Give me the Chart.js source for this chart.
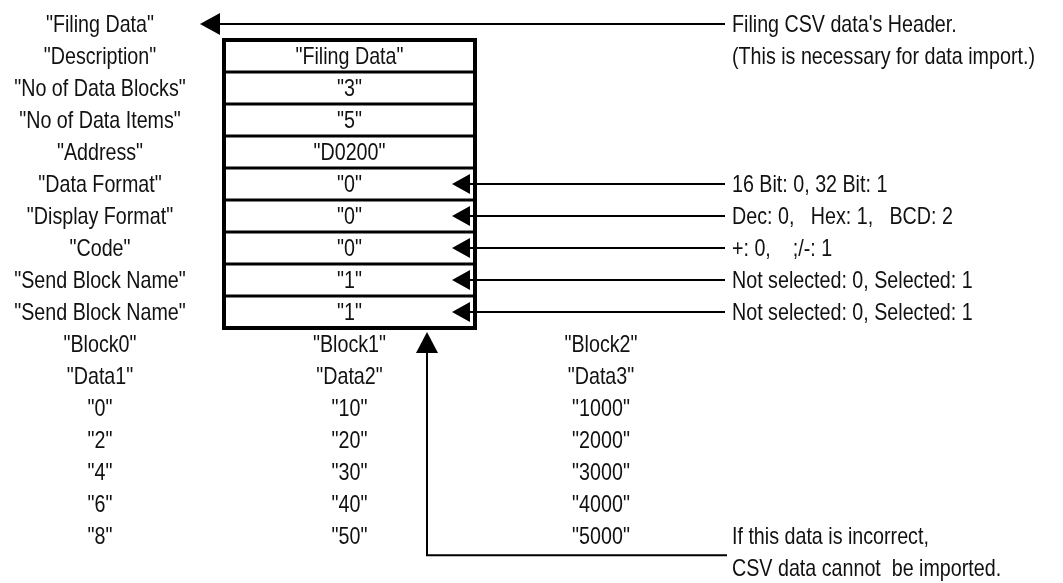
<!DOCTYPE html>
<html>
<head>
<meta charset="utf-8">
<script src="https://cdn.jsdelivr.net/npm/chart.js@4"></script>
<style>
  body { margin: 0; background: #fff; }
  #wrap { width: 1063px; height: 583px; }
</style>
</head>
<body>
<div id="wrap"><canvas id="csvChart" width="1063" height="583"></canvas></div>
<script>
// header field names (rows 0..9) and the values in the box (rows 1..9)
const fieldNames = ['"Filing Data"', '"Description"', '"No of Data Blocks"', '"No of Data Items"', '"Address"',
  '"Data Format"', '"Display Format"', '"Code"', '"Send Block Name"', '"Send Block Name"'];
const fieldValues = ['"Filing Data"', '"3"', '"5"', '"D0200"', '"0"', '"0"', '"0"', '"1"', '"1"'];

// block part (rows 10..16)
const blockNames = ['"Block0"', '"Block1"', '"Block2"'];
const dataNames = ['"Data1"', '"Data2"', '"Data3"'];
const block0Values = ['"0"', '"2"', '"4"', '"6"', '"8"'];
const block1Values = ['"10"', '"20"', '"30"', '"40"', '"50"'];
const block2Values = ['"1000"', '"2000"', '"3000"', '"4000"', '"5000"'];

// notes on the right
const headerNote = ["Filing CSV data's Header.", '(This is necessary for data import.)'];
const settingRows = [5, 6, 7, 8, 9];
const settingNotes = ['16 Bit: 0, 32 Bit: 1', 'Dec: 0,   Hex: 1,   BCD: 2', '+: 0,    ;/-: 1',
  'Not selected: 0, Selected: 1', 'Not selected: 0, Selected: 1'];
const errorNote = ['If this data is incorrect,', 'CSV data cannot  be imported.'];

// layout (pixel units on the x scale)
const COL_LEFT = 100, COL_MID = 349.5, COL_RIGHT = 601, NOTE_X = 732;
const BOX_L = 224, BOX_R = 475;
// no Arial Narrow here, so squeeze Liberation Sans sideways
const FONT = '24px "Liberation Sans", Arial, sans-serif';
const NARROW = 0.82;

function col(x, texts, firstRow) {
  return texts.map((t, i) => ({ x: x, y: firstRow + i, t: t }));
}

const leftPts = col(COL_LEFT, fieldNames, 0)
  .concat(col(COL_LEFT, [blockNames[0], dataNames[0]], 10), col(COL_LEFT, block0Values, 12));
const midPts = col(COL_MID, fieldValues, 1)
  .concat(col(COL_MID, [blockNames[1], dataNames[1]], 10), col(COL_MID, block1Values, 12));
const rightPts = col(COL_RIGHT, [blockNames[2], dataNames[2]], 10).concat(col(COL_RIGHT, block2Values, 12));
const notePts = col(NOTE_X, headerNote, 0)
  .concat(settingNotes.map((t, i) => ({ x: NOTE_X, y: settingRows[i], t: t })), col(NOTE_X, errorNote, 16));

function line(ctx, x1, y1, x2, y2, w) {
  ctx.lineWidth = w;
  ctx.beginPath();
  ctx.moveTo(x1, y1);
  ctx.lineTo(x2, y2);
  ctx.stroke();
}

function head(ctx, tx, ty, bx, by, half) {
  // triangle with tip (tx,ty), base centre (bx,by)
  const dx = bx - tx, dy = by - ty, len = Math.hypot(dx, dy);
  const nx = -dy / len * half, ny = dx / len * half;
  ctx.beginPath();
  ctx.moveTo(tx, ty);
  ctx.lineTo(bx + nx, by + ny);
  ctx.lineTo(bx - nx, by - ny);
  ctx.closePath();
  ctx.fill();
}

const diagramPlugin = {
  id: 'diagram',
  beforeDatasetsDraw(chart) {
    const ctx = chart.ctx, xs = chart.scales.x, ys = chart.scales.y;
    ctx.save();
    ctx.strokeStyle = '#000';
    ctx.fillStyle = '#000';
    const l = xs.getPixelForValue(BOX_L), r = xs.getPixelForValue(BOX_R);
    const top = ys.getPixelForValue(0.5), bot = ys.getPixelForValue(fieldValues.length + 0.5);
    for (let k = 1; k < fieldValues.length; k++) {
      const y = ys.getPixelForValue(k + 0.5);
      line(ctx, l, y, r, y, 3);
    }
    ctx.lineWidth = 4;
    ctx.strokeRect(l, top, r - l, bot - top);

    // header arrow
    const y0 = ys.getPixelForValue(0);
    const end = xs.getPixelForValue(NOTE_X - 7);
    line(ctx, xs.getPixelForValue(218), y0, end, y0, 2);
    head(ctx, xs.getPixelForValue(200), y0, xs.getPixelForValue(220), y0, 11);

    // setting arrows
    settingRows.forEach(row => {
      const y = ys.getPixelForValue(row);
      line(ctx, xs.getPixelForValue(468), y, end, y, 2);
      head(ctx, xs.getPixelForValue(452), y, xs.getPixelForValue(470), y, 10);
    });

    // error arrow pointing up to the box
    const ax = xs.getPixelForValue(427);
    const yb = ys.getPixelForValue(16.6);
    const tip = bot + 4, base = tip + 21;
    ctx.lineWidth = 2;
    ctx.beginPath();
    ctx.moveTo(ax, base - 2);
    ctx.lineTo(ax, yb);
    ctx.lineTo(xs.getPixelForValue(NOTE_X - 5), yb);
    ctx.stroke();
    head(ctx, ax, tip, ax, base, 11);
    ctx.restore();
  },
  afterDatasetsDraw(chart) {
    const ctx = chart.ctx;
    ctx.save();
    ctx.font = FONT;
    ctx.fillStyle = '#111';
    ctx.textBaseline = 'middle';
    chart.data.datasets.forEach((ds, i) => {
      ctx.textAlign = ds.align;
      chart.getDatasetMeta(i).data.forEach((pt, j) => {
        ctx.save();
        ctx.translate(pt.x, pt.y + 1);
        ctx.scale(NARROW, 1);
        ctx.fillText(ds.data[j].t, 0, 0);
        ctx.restore();
      });
    });
    ctx.restore();
  }
};

const pointStyle = { pointRadius: 0, pointHoverRadius: 0, showLine: false };

new Chart(document.getElementById('csvChart'), {
  type: 'scatter',
  data: {
    datasets: [
      Object.assign({ label: 'left', data: leftPts, align: 'center' }, pointStyle),
      Object.assign({ label: 'middle', data: midPts, align: 'center' }, pointStyle),
      Object.assign({ label: 'right', data: rightPts, align: 'center' }, pointStyle),
      Object.assign({ label: 'notes', data: notePts, align: 'left' }, pointStyle)
    ]
  },
  options: {
    responsive: false,
    animation: false,
    layout: { padding: 0 },
    plugins: { legend: { display: false }, tooltip: { enabled: false } },
    scales: {
      x: { type: 'linear', min: 0, max: 1063, display: false },
      y: { type: 'linear', min: -0.75, max: -0.75 + 583 / 32, reverse: true, display: false }
    }
  },
  plugins: [diagramPlugin]
});
</script>
</body>
</html>
